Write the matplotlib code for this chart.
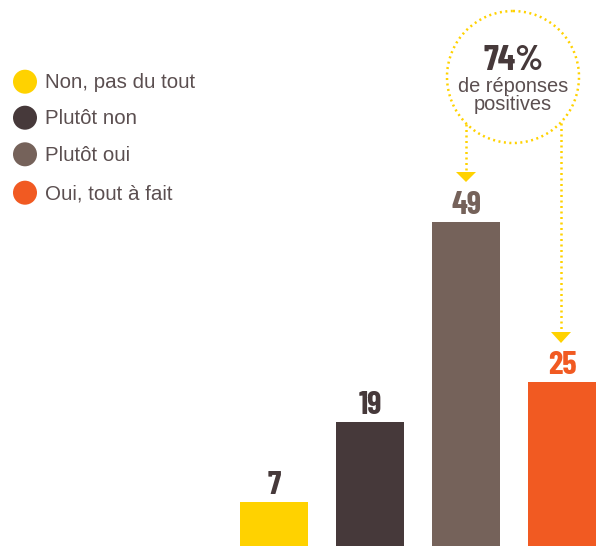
import matplotlib
matplotlib.use("Agg")
import matplotlib.pyplot as plt
from matplotlib.patches import Circle, Polygon

categories = ["Non, pas du tout", "Plutôt non", "Plutôt oui", "Oui, tout à fait"]
values = [7, 19, 49, 25]
colors = ["#FFD200", "#46393A", "#75625A", "#F15A22"]
label_colors = ["#46393A", "#46393A", "#75625A", "#F15A22"]
total_positive = "74%"
positive_lines = ["de réponses", "positives"]

NUM_FONT = ["Barlow Condensed", "Bebas Neue", "DejaVu Sans"]
TXT_FONT = ["Liberation Sans", "DejaVu Sans"]
TXT_COLOR = "#5B4F50"

W, H = 604, 546
fig = plt.figure(figsize=(W / 100, H / 100), dpi=100)

# main data axes spanning whole figure
ax = fig.add_axes([0, 0, 1, 1])
px_per_cat = 96.0
x0_px = 274.0
px_per_unit = 6.667
base_px = 548.4
ax.set_xlim(-x0_px / px_per_cat, (W - x0_px) / px_per_cat)
ax.set_ylim((base_px - H) / px_per_unit, base_px / px_per_unit)
ax.axis("off")

xs = list(range(len(values)))
ax.bar(xs, values, width=68 / px_per_cat, color=colors, zorder=2)
for x, v, c in zip(xs, values, label_colors):
    ax.annotate(str(v), (x, v), xytext=(0, 5.8), textcoords="offset points",
                ha="center", va="baseline", fontsize=23.5, fontweight="bold",
                family=NUM_FONT, color=c)

# overlay axes in pixel coordinates for decorations
ov = fig.add_axes([0, 0, 1, 1], facecolor="none")
ov.set_xlim(0, W)
ov.set_ylim(H, 0)
ov.axis("off")

# legend
leg_y = [81.7, 117.7, 154.3, 192.7]
for yy, lab, col in zip(leg_y, categories, colors):
    ov.add_patch(Circle((25, yy), 12, color=col, lw=0))
    ov.text(45, yy + 1, lab, ha="left", va="center", fontsize=14.8,
            family=TXT_FONT, color=TXT_COLOR)

# dotted circle annotation
yellow = "#FFD200"
cx, cy, r = 513, 77, 66
dots = (0, (0.8, 1.4))
ov.add_patch(Circle((cx, cy), r, fill=False, ec=yellow, lw=1.8, linestyle=dots))
ov.text(cx + 1, 70, total_positive, ha="center", va="baseline", fontsize=26,
        fontweight="bold", family=NUM_FONT, color="#46393A")
for line, yb in zip(positive_lines, [91.5, 109.5]):
    ov.text(cx, yb, line, ha="center", va="baseline", fontsize=14.4,
            family=TXT_FONT, color=TXT_COLOR)

# connector lines with triangles
ov.plot([466, 466], [124, 171], color=yellow, lw=1.8, linestyle=dots)
ov.add_patch(Polygon([(456, 172), (476, 172), (466, 182)], closed=True, color=yellow, lw=0))
ov.plot([561, 561], [123, 331], color=yellow, lw=1.8, linestyle=dots)
ov.add_patch(Polygon([(551, 332), (571, 332), (561, 343)], closed=True, color=yellow, lw=0))

fig.savefig("out.png", dpi=100)
